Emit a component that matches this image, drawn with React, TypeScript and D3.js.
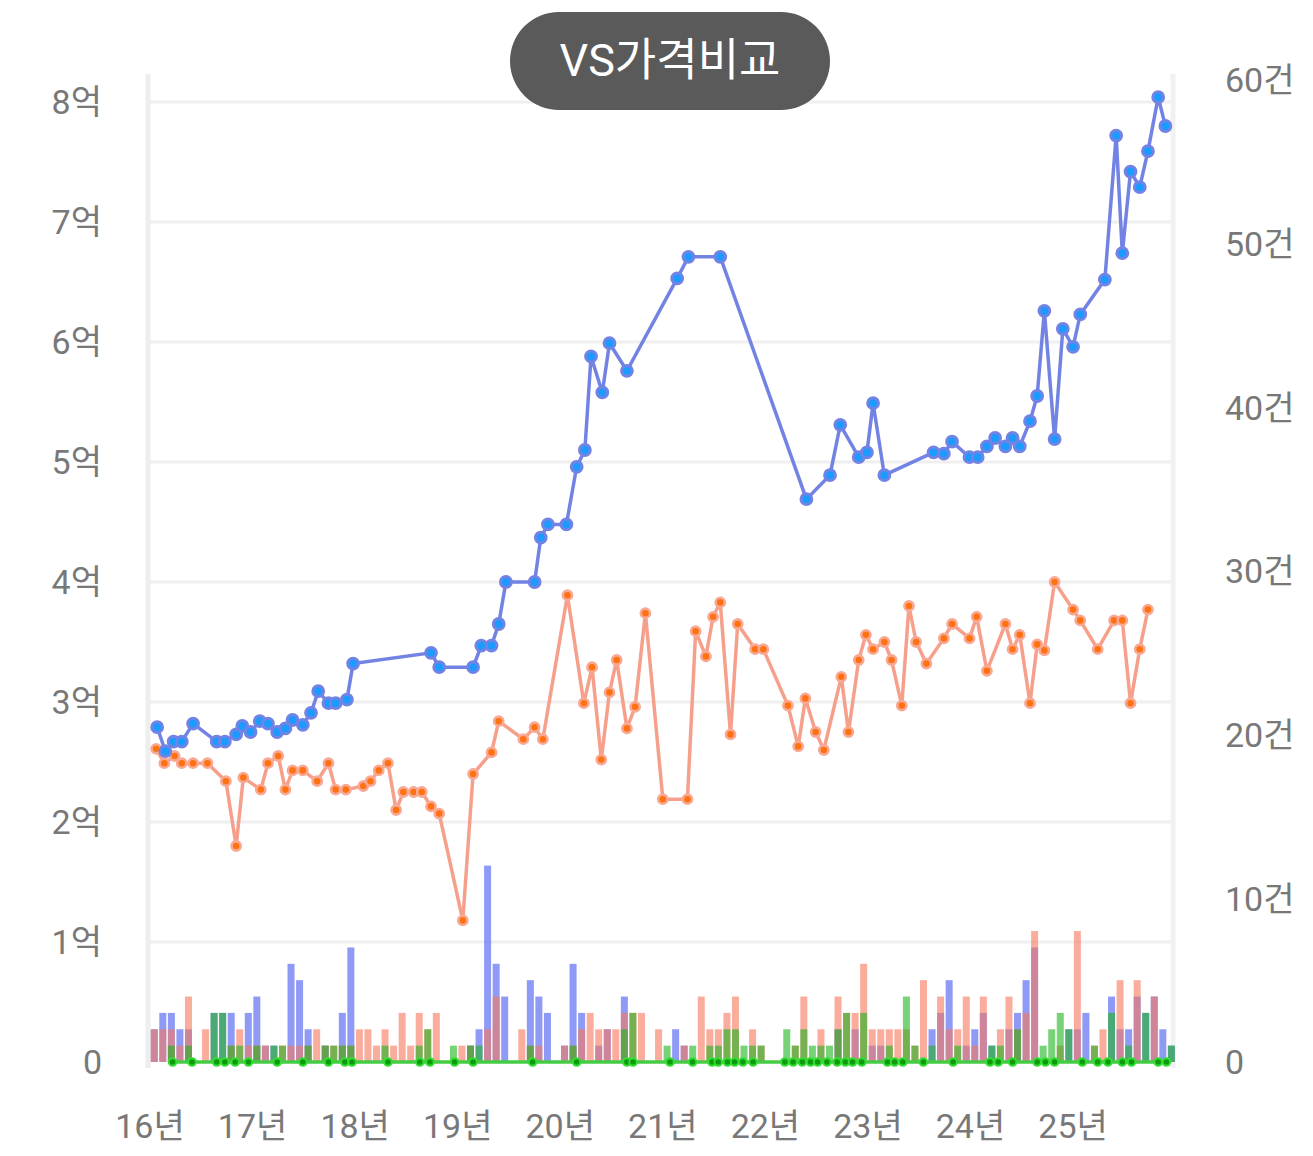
import React from 'react'
import * as d3 from 'd3'

// 월별 거래량 (2016-01 ~ 2025-12), 단위: 건
const volBlue = [
  2, 3, 3, 2, 2, 0, 0, 3, 3, 3,
  0, 3, 4, 1, 1, 0, 6, 5, 2, 0,
  1, 0, 3, 7, 0, 0, 0, 0, 0, 0,
  0, 0, 0, 0, 0, 0, 0, 1, 2, 12,
  6, 4, 0, 0, 5, 4, 3, 0, 1, 6,
  3, 0, 1, 2, 0, 4, 0, 0, 0, 0,
  0, 2, 1, 0, 0, 0, 0, 0, 0, 0,
  0, 0, 0, 0, 0, 0, 0, 0, 0, 0,
  2, 0, 2, 0, 1, 1, 0, 0, 0, 0,
  0, 2, 3, 5, 0, 1, 2, 3, 1, 0,
  2, 3, 5, 7, 0, 0, 0, 2, 2, 3,
  0, 0, 4, 2, 2, 4, 3, 4, 2, 1,
]
const volSalmon = [
  2, 2, 2, 1, 4, 0, 2, 0, 0, 1,
  2, 1, 1, 1, 0, 1, 1, 1, 1, 2,
  1, 1, 1, 1, 2, 2, 1, 2, 1, 3,
  1, 3, 2, 3, 0, 0, 1, 1, 0, 2,
  4, 0, 0, 2, 1, 1, 0, 0, 1, 1,
  2, 3, 2, 2, 2, 3, 3, 3, 0, 2,
  0, 0, 1, 0, 4, 2, 2, 3, 4, 0,
  2, 1, 0, 0, 0, 1, 4, 0, 2, 0,
  4, 3, 3, 6, 2, 2, 2, 2, 2, 1,
  5, 0, 4, 2, 2, 4, 1, 4, 0, 2,
  4, 2, 3, 8, 0, 0, 1, 0, 8, 0,
  1, 2, 0, 5, 0, 5, 0, 4, 0, 0,
]
const volGreen = [
  0, 0, 1, 0, 1, 0, 0, 3, 3, 1,
  1, 0, 1, 0, 1, 1, 0, 0, 1, 0,
  1, 1, 1, 1, 0, 0, 0, 1, 0, 0,
  0, 1, 2, 0, 0, 1, 0, 1, 1, 0,
  0, 0, 0, 0, 1, 0, 0, 0, 0, 1,
  0, 0, 0, 0, 0, 2, 3, 0, 0, 0,
  1, 0, 0, 1, 0, 1, 1, 2, 2, 1,
  1, 1, 0, 0, 2, 1, 2, 1, 1, 1,
  2, 3, 0, 3, 0, 0, 1, 0, 4, 1,
  0, 1, 0, 0, 1, 0, 0, 0, 1, 1,
  0, 2, 0, 0, 1, 2, 3, 2, 0, 0,
  1, 0, 3, 0, 1, 0, 3, 0, 0, 1,
]

// 가격 (억), 날짜는 연도 소수 표기
const blueDates = [
  2016.07, 2016.15, 2016.23, 2016.31, 2016.42, 2016.65, 2016.73, 2016.84, 2016.90, 2016.98,
  2017.07, 2017.15, 2017.24, 2017.32, 2017.39, 2017.49, 2017.57, 2017.64, 2017.74, 2017.81,
  2017.92, 2017.98, 2018.74, 2018.82, 2019.15, 2019.23, 2019.33, 2019.40, 2019.47, 2019.75,
  2019.81, 2019.88, 2020.06, 2020.16, 2020.24, 2020.30, 2020.41, 2020.48, 2020.65, 2021.14,
  2021.25, 2021.56, 2022.40, 2022.63, 2022.73, 2022.91, 2022.99, 2023.05, 2023.16, 2023.64,
  2023.74, 2023.82, 2023.99, 2024.07, 2024.16, 2024.24, 2024.34, 2024.41, 2024.48, 2024.58,
  2024.65, 2024.72, 2024.82, 2024.90, 2025.00, 2025.07, 2025.31, 2025.42, 2025.48, 2025.56,
  2025.65, 2025.73, 2025.83, 2025.90,
]
const bluePrices = [
  2.79, 2.59, 2.67, 2.67, 2.82, 2.67, 2.67, 2.73, 2.80, 2.75,
  2.84, 2.82, 2.75, 2.78, 2.85, 2.81, 2.91, 3.09, 2.99, 2.99,
  3.02, 3.32, 3.41, 3.29, 3.29, 3.47, 3.47, 3.65, 4.00, 4.00,
  4.37, 4.48, 4.48, 4.96, 5.10, 5.88, 5.58, 5.99, 5.76, 6.53,
  6.71, 6.71, 4.69, 4.89, 5.31, 5.04, 5.08, 5.49, 4.89, 5.08,
  5.07, 5.17, 5.04, 5.04, 5.13, 5.20, 5.13, 5.20, 5.13, 5.34,
  5.55, 6.26, 5.19, 6.11, 5.96, 6.23, 6.52, 7.72, 6.74, 7.42,
  7.29, 7.59, 8.04, 7.80,
]

const orangeDates = [
  2016.06, 2016.14, 2016.24, 2016.31, 2016.42, 2016.56, 2016.74, 2016.84, 2016.91, 2017.08,
  2017.15, 2017.25, 2017.32, 2017.39, 2017.49, 2017.63, 2017.74, 2017.81, 2017.91, 2018.08,
  2018.15, 2018.23, 2018.32, 2018.40, 2018.47, 2018.57, 2018.65, 2018.74, 2018.82, 2019.05,
  2019.15, 2019.33, 2019.40, 2019.64, 2019.75, 2019.83, 2020.07, 2020.23, 2020.31, 2020.40,
  2020.48, 2020.55, 2020.65, 2020.73, 2020.83, 2021.00, 2021.24, 2021.32, 2021.42, 2021.49,
  2021.56, 2021.66, 2021.73, 2021.90, 2021.98, 2022.22, 2022.32, 2022.39, 2022.49, 2022.57,
  2022.74, 2022.81, 2022.91, 2022.98, 2023.05, 2023.16, 2023.23, 2023.33, 2023.40, 2023.47,
  2023.57, 2023.74, 2023.82, 2023.99, 2024.06, 2024.16, 2024.34, 2024.41, 2024.48, 2024.58,
  2024.65, 2024.72, 2024.82, 2025.00, 2025.07, 2025.24, 2025.40, 2025.48, 2025.56, 2025.65,
  2025.73,
]
const orangePrices = [
  2.61, 2.49, 2.55, 2.49, 2.49, 2.49, 2.34, 1.80, 2.37, 2.27,
  2.49, 2.55, 2.27, 2.43, 2.43, 2.34, 2.49, 2.27, 2.27, 2.30,
  2.34, 2.43, 2.49, 2.10, 2.25, 2.25, 2.25, 2.13, 2.07, 1.18,
  2.40, 2.58, 2.84, 2.69, 2.79, 2.69, 3.89, 2.99, 3.29, 2.52,
  3.08, 3.35, 2.78, 2.96, 3.74, 2.19, 2.19, 3.59, 3.38, 3.71,
  3.83, 2.73, 3.65, 3.44, 3.44, 2.97, 2.63, 3.03, 2.75, 2.60,
  3.21, 2.75, 3.35, 3.56, 3.44, 3.50, 3.35, 2.97, 3.80, 3.50,
  3.32, 3.53, 3.65, 3.53, 3.71, 3.26, 3.65, 3.44, 3.56, 2.99,
  3.48, 3.43, 4.00, 3.77, 3.68, 3.44, 3.68, 3.68, 2.99, 3.44,
  3.77,
]

// 초록 시리즈: 가격 없음(0)으로 표시되는 거래일
const greenDates = [
  2016.22, 2016.41, 2016.65, 2016.73, 2016.83, 2016.96, 2017.24, 2017.49, 2017.74, 2017.90,
  2017.97, 2018.32, 2018.63, 2018.73, 2018.97, 2019.15, 2019.73, 2020.16, 2020.65, 2020.71,
  2021.07, 2021.29, 2021.48, 2021.54, 2021.63, 2021.70, 2021.78, 2021.88, 2022.19, 2022.27,
  2022.36, 2022.44, 2022.51, 2022.60, 2022.70, 2022.78, 2022.85, 2022.94, 2023.19, 2023.26,
  2023.34, 2023.54, 2023.83, 2024.19, 2024.27, 2024.41, 2024.65, 2024.73, 2024.82, 2025.09,
  2025.24, 2025.34, 2025.48, 2025.57, 2025.83, 2025.91,
]

const priceTicks = [0, 1, 2, 3, 4, 5, 6, 7, 8]
const countTicks = [0, 10, 20, 30, 40, 50, 60]
const yearTicks = [2016, 2017, 2018, 2019, 2020, 2021, 2022, 2023, 2024, 2025]

const W = 1313
const H = 1156
const plot = { left: 150, right: 1170, top: 80, bottom: 1062 }
const FONT = "Roboto, 'Noto Sans CJK KR', sans-serif"

export default function App() {
  const x = d3.scaleLinear().domain([2016, 2025.945]).range([plot.left, plot.right])
  const yPrice = d3.scaleLinear().domain([0, (plot.bottom - plot.top) / 120]).range([plot.bottom, plot.top])
  const yCount = d3.scaleLinear().domain([0, 60]).range([plot.bottom, plot.top])

  const monthW = x(2016 + 1 / 12) - x(2016)
  const barW = monthW * 0.82
  const monthMid = (i: number) => 2016 + (i + 0.5) / 12

  const line = d3.line<[number, number]>().x(d => x(d[0])).y(d => yPrice(d[1]))
  const bluePts: [number, number][] = blueDates.map((d, i) => [d, bluePrices[i]])
  const orangePts: [number, number][] = orangeDates.map((d, i) => [d, orangePrices[i]])
  const greenPts: [number, number][] = greenDates.map(d => [d, 0])

  const bars = (vals: number[], fill: string, key: string) =>
    vals.map((v, i) =>
      v > 0 ? (
        <rect
          key={key + i}
          x={x(monthMid(i)) - barW / 2}
          y={yCount(v)}
          width={barW}
          height={yCount(0) - yCount(v)}
          fill={fill}
        />
      ) : null
    )

  return (
    <div style={{ position: 'absolute', left: 0, top: 0 }}>
      <svg width={W} height={H} style={{ display: 'block', background: '#fff' }}>
        {/* 그리드 */}
        {priceTicks.slice(1).map(t => (
          <line key={'g' + t} x1={plot.left} x2={plot.right} y1={yPrice(t)} y2={yPrice(t)}
            stroke="#efefef" strokeWidth={3} />
        ))}
        <line x1={plot.left - 2} x2={plot.left - 2} y1={plot.top - 6} y2={plot.bottom + 6} stroke="#eeeeee" strokeWidth={5} />
        <line x1={plot.right + 3} x2={plot.right + 3} y1={plot.top - 6} y2={plot.bottom + 6} stroke="#f1f1f1" strokeWidth={5} />

        {/* 거래량 막대 */}
        <g>{bars(volBlue, 'rgba(99,115,242,0.72)', 'b')}</g>
        <g>{bars(volSalmon, 'rgba(248,118,92,0.6)', 's')}</g>
        <g>{bars(volGreen, 'rgba(30,180,30,0.6)', 'gr')}</g>

        {/* 초록 라인 */}
        <path d={line(greenPts) || ''} fill="none" stroke="#44cc44" strokeWidth={3.5} />
        {greenPts.map((p, i) => (
          <circle key={'gp' + i} cx={x(p[0])} cy={yPrice(p[1])} r={3.8} fill="#0d9a0d" stroke="#33dd33" strokeWidth={2} />
        ))}

        {/* 주황 라인 */}
        <path d={line(orangePts) || ''} fill="none" stroke="#f6a08c" strokeWidth={3.5} />
        {orangePts.map((p, i) => (
          <circle key={'op' + i} cx={x(p[0])} cy={yPrice(p[1])} r={4.6} fill="#ff7212" stroke="#f7a996" strokeWidth={2.6} />
        ))}

        {/* 파랑 라인 */}
        <path d={line(bluePts) || ''} fill="none" stroke="#7383e4" strokeWidth={3.5} />
        {bluePts.map((p, i) => (
          <circle key={'bp' + i} cx={x(p[0])} cy={yPrice(p[1])} r={5.4} fill="#1c9bff" stroke="#7383e4" strokeWidth={3} />
        ))}

        {/* 왼쪽 축 */}
        {priceTicks.map(t => (
          <text key={'l' + t} x={102} y={yPrice(t)} dy="0.36em" textAnchor="end"
            fontFamily={FONT} fontSize={34} fill="#787878">
            {t === 0 ? '0' : `${t}억`}
          </text>
        ))}

        {/* 오른쪽 축 */}
        {countTicks.map(t => (
          <text key={'r' + t} x={1225} y={yCount(t)} dy="0.36em" textAnchor="start"
            fontFamily={FONT} fontSize={34} fill="#787878">
            {t === 0 ? '0' : `${t}건`}
          </text>
        ))}

        {/* X 축 */}
        {yearTicks.map(t => (
          <text key={'x' + t} x={x(t)} y={1126} dy="0.36em" textAnchor="middle"
            fontFamily={FONT} fontSize={34} fill="#787878">
            {`${t - 2000}년`}
          </text>
        ))}

        {/* 제목 */}
        <rect x={510} y={12} width={320} height={98} rx={49} fill="#5a5a5a" />
        <text x={670} y={60} dy="0.36em" textAnchor="middle" fontFamily={FONT} fontSize={45} fill="#ffffff">
          VS가격비교
        </text>
      </svg>
    </div>
  )
}
